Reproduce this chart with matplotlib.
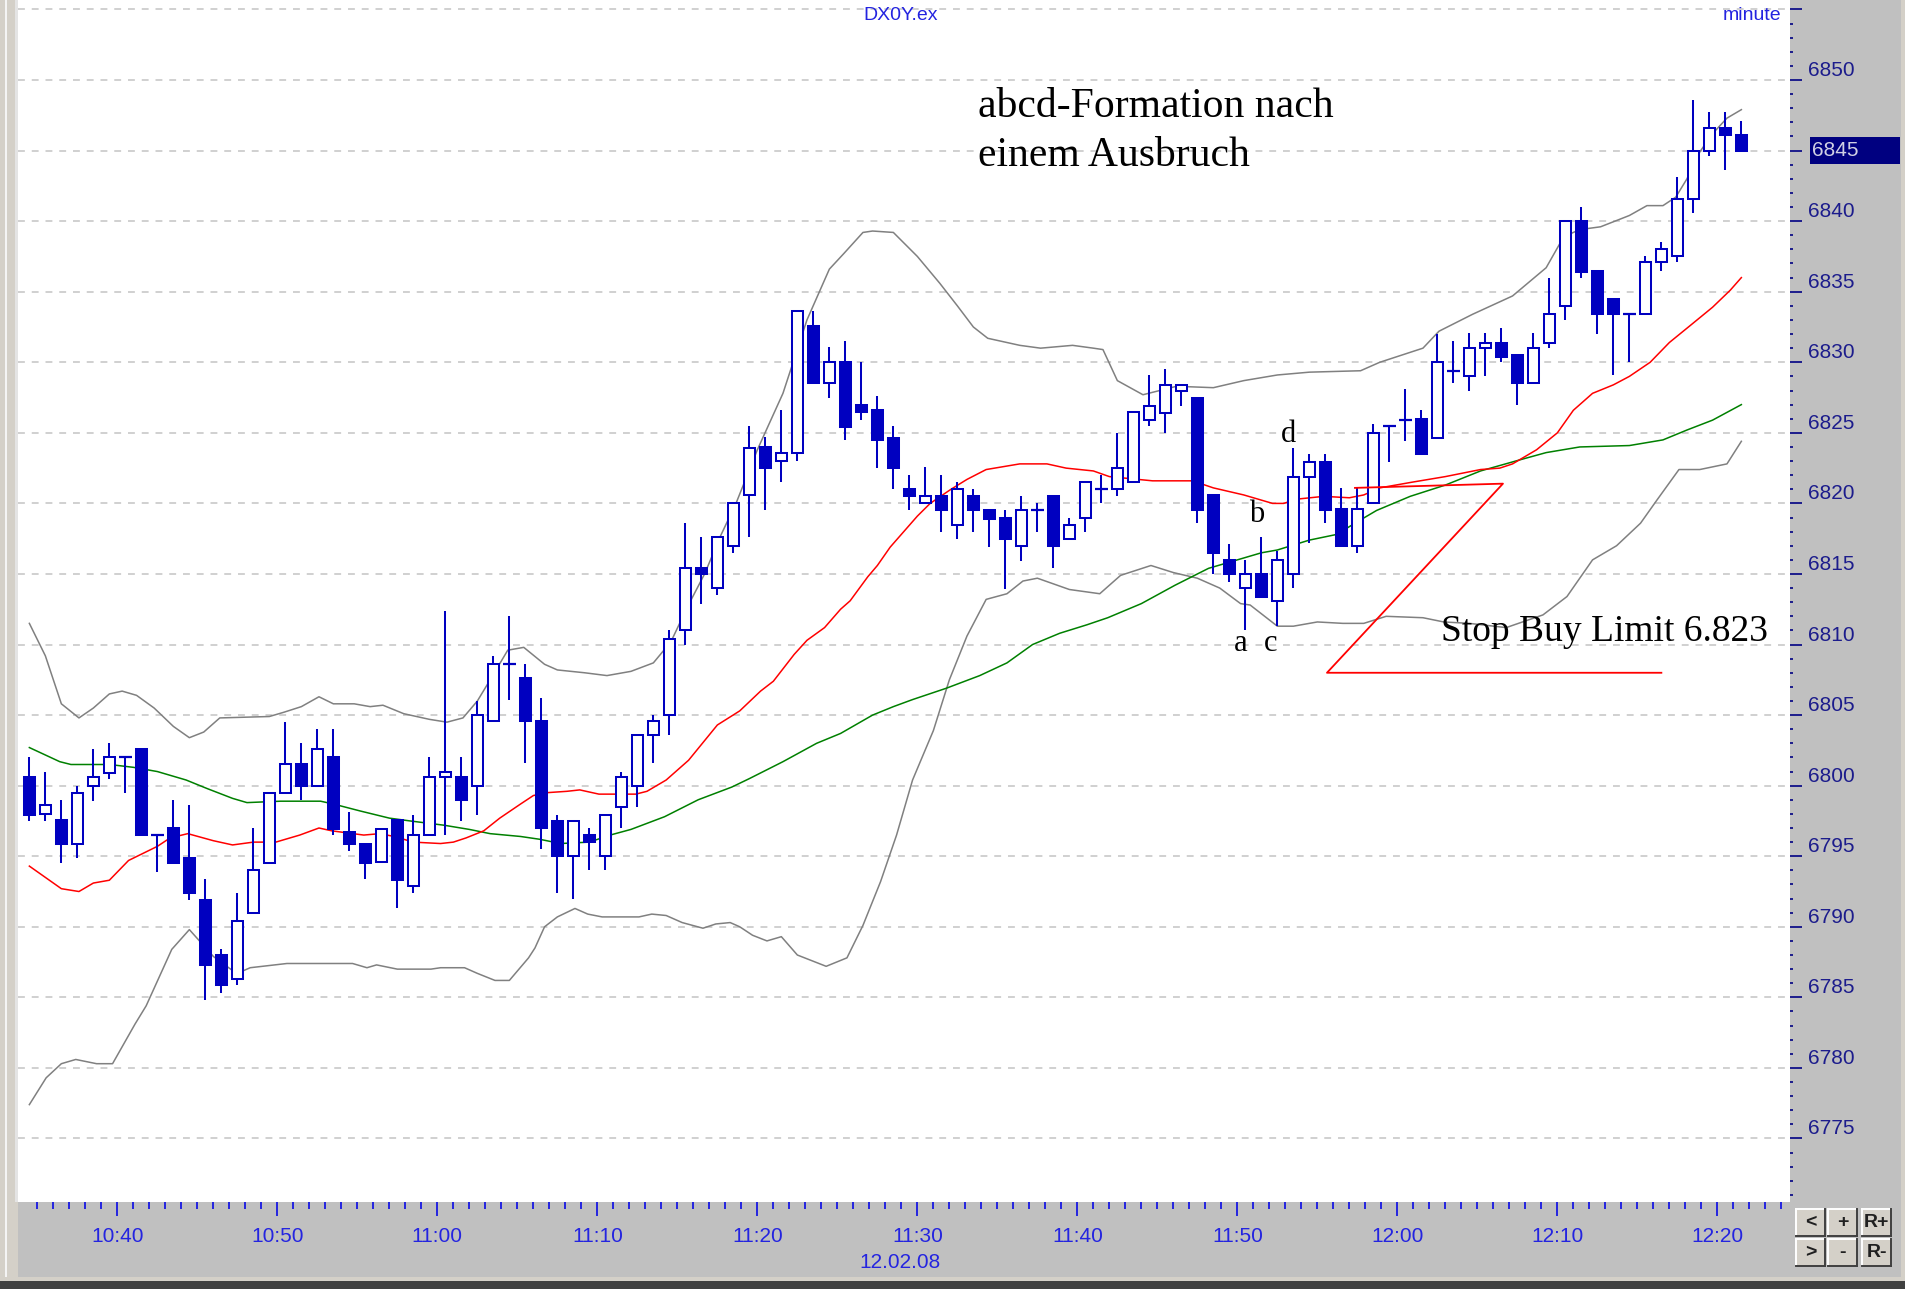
#!/usr/bin/env python3
"""
plot.py - DX0Y.ex one-minute candles on 12.02.08 with the abcd annotation.

Candles run 10:34 .. 12:21, one per minute; x is the bar index from 10:34.
Overlays: red and green moving averages, grey Bollinger bands, and the
hand-drawn stop-buy triangle.  Output: out.png (1905 x 1289 px).
"""
import numpy as np
import matplotlib
matplotlib.use("Agg")
import matplotlib.pyplot as plt
from matplotlib.patches import Rectangle
from matplotlib.lines import Line2D
from matplotlib.ticker import MultipleLocator
from matplotlib.transforms import blended_transform_factory

W, H = 1905, 1289
START_MIN = 10 * 60 + 34          # first bar 10:34

# ---- OHLC, one bar per minute from 10:34 ------------------------------
OPEN = [6800.6, 6798.0, 6797.6, 6795.9, 6800.0, 6800.9, 6802.0, 6802.6, 6796.5, 6797.0,
        6794.9, 6791.9, 6788.0, 6786.3, 6791.0, 6794.5, 6799.5, 6801.5, 6800.0, 6802.0,
        6796.7, 6795.9, 6794.6, 6797.6, 6792.9, 6796.5, 6800.6, 6800.6, 6800.0, 6804.6,
        6808.6, 6807.6, 6804.6, 6797.5, 6795.0, 6796.5, 6795.0, 6798.5, 6800.0, 6803.6,
        6805.0, 6811.0, 6815.4, 6814.0, 6817.0, 6820.6, 6824.0, 6823.0, 6823.6, 6832.6,
        6828.5, 6830.0, 6827.0, 6826.6, 6824.6, 6821.0, 6820.0, 6820.5, 6818.5, 6820.5,
        6819.5, 6819.0, 6817.0, 6819.5, 6820.5, 6817.5, 6819.0, 6821.0, 6821.0, 6821.5,
        6825.9, 6826.4, 6828.0, 6827.5, 6820.6, 6816.0, 6814.0, 6815.0, 6813.1, 6815.0,
        6821.9, 6822.9, 6819.6, 6817.0, 6820.0, 6825.5, 6825.9, 6826.0, 6824.6, 6829.4,
        6829.0, 6831.0, 6831.4, 6830.5, 6828.5, 6831.4, 6834.0, 6840.0, 6836.5, 6834.5,
        6833.4, 6833.4, 6837.1, 6837.5, 6841.6, 6845.0, 6846.6, 6846.1]
HIGH = [6802.0, 6801.0, 6799.0, 6800.0, 6802.6, 6803.0, 6802.0, 6802.6, 6796.5, 6799.0,
        6798.6, 6793.4, 6788.4, 6792.4, 6797.0, 6799.5, 6804.5, 6803.0, 6804.0, 6804.0,
        6798.1, 6795.9, 6796.9, 6797.6, 6797.9, 6802.0, 6812.4, 6802.0, 6806.0, 6809.2,
        6812.0, 6808.6, 6806.2, 6797.9, 6797.5, 6797.0, 6797.9, 6801.0, 6803.6, 6805.0,
        6811.0, 6818.6, 6817.6, 6817.6, 6820.0, 6825.5, 6824.7, 6826.6, 6833.6, 6833.6,
        6831.1, 6831.5, 6830.0, 6827.6, 6825.5, 6822.0, 6822.6, 6822.0, 6821.5, 6821.0,
        6819.5, 6819.5, 6820.5, 6820.0, 6820.5, 6819.0, 6821.5, 6822.0, 6825.0, 6826.5,
        6829.1, 6829.5, 6828.4, 6827.5, 6820.6, 6817.1, 6816.0, 6817.6, 6816.6, 6823.9,
        6823.5, 6823.5, 6821.1, 6821.1, 6825.6, 6825.5, 6828.1, 6826.6, 6832.0, 6831.5,
        6832.1, 6832.1, 6832.4, 6830.5, 6832.1, 6836.0, 6840.0, 6841.0, 6836.5, 6834.5,
        6833.4, 6837.5, 6838.5, 6843.1, 6848.6, 6847.7, 6847.7, 6847.1]
LOW = [6797.5, 6797.5, 6794.5, 6794.9, 6798.9, 6800.5, 6799.5, 6796.5, 6793.9, 6794.5,
       6791.9, 6784.8, 6785.3, 6785.9, 6791.0, 6794.5, 6799.5, 6799.0, 6800.0, 6796.5,
       6795.4, 6793.4, 6794.6, 6791.3, 6792.4, 6796.5, 6796.5, 6797.5, 6797.9, 6804.6,
       6806.1, 6801.6, 6795.5, 6792.4, 6792.0, 6794.0, 6794.0, 6797.0, 6798.5, 6801.6,
       6803.6, 6810.0, 6812.9, 6813.5, 6816.5, 6817.6, 6819.5, 6821.5, 6823.0, 6828.5,
       6827.5, 6824.5, 6825.9, 6822.5, 6821.0, 6819.5, 6820.0, 6818.0, 6817.5, 6818.0,
       6816.9, 6813.9, 6815.9, 6818.0, 6815.4, 6817.5, 6818.0, 6820.0, 6820.5, 6821.5,
       6825.5, 6825.0, 6826.9, 6818.6, 6815.0, 6814.4, 6811.0, 6813.4, 6811.3, 6814.0,
       6817.2, 6818.6, 6817.0, 6816.5, 6820.0, 6822.9, 6824.4, 6823.5, 6824.6, 6828.5,
       6828.0, 6829.0, 6830.0, 6827.0, 6828.5, 6831.0, 6833.0, 6836.0, 6832.0, 6829.1,
       6830.0, 6833.4, 6836.5, 6837.1, 6840.6, 6844.6, 6843.6, 6845.0]
CLOSE = [6797.9, 6798.6, 6795.9, 6799.5, 6800.6, 6802.0, 6802.0, 6796.5, 6796.5, 6794.5,
         6792.4, 6787.3, 6785.9, 6790.4, 6794.0, 6799.5, 6801.5, 6800.0, 6802.6, 6796.9,
         6795.9, 6794.5, 6796.9, 6793.3, 6796.5, 6800.6, 6801.0, 6799.0, 6805.0, 6808.6,
         6808.6, 6804.6, 6797.0, 6795.0, 6797.5, 6796.0, 6797.9, 6800.6, 6803.6, 6804.6,
         6810.4, 6815.4, 6815.0, 6817.6, 6820.0, 6823.9, 6822.5, 6823.6, 6833.6, 6828.5,
         6830.0, 6825.4, 6826.5, 6824.5, 6822.5, 6820.5, 6820.5, 6819.5, 6821.0, 6819.5,
         6818.9, 6817.5, 6819.5, 6819.5, 6817.0, 6818.5, 6821.5, 6821.0, 6822.5, 6826.5,
         6826.9, 6828.4, 6828.4, 6819.5, 6816.5, 6815.0, 6815.0, 6813.4, 6816.0, 6821.9,
         6822.9, 6819.5, 6817.0, 6819.6, 6825.0, 6825.5, 6825.9, 6823.5, 6830.0, 6829.4,
         6831.0, 6831.4, 6830.4, 6828.5, 6831.0, 6833.4, 6840.0, 6836.4, 6833.4, 6833.4,
         6833.4, 6837.1, 6838.0, 6841.6, 6845.0, 6846.6, 6846.1, 6845.0]

# ---- indicator lines: (bar index, price) ------------------------------
UPPER_BAND = [(0, 6811.5), (1, 6809.2), (2, 6805.8), (3.1, 6804.8), (4, 6805.5), (5, 6806.5),
              (5.8, 6806.7), (6.7, 6806.4), (7.8, 6805.5), (9, 6804.2), (10, 6803.4),
              (10.9, 6803.8), (11.9, 6804.8), (15, 6804.9), (15.9, 6805.2), (17, 6805.6),
              (18.1, 6806.3), (19, 6805.8), (20.3, 6805.8), (21.3, 6805.6), (22.1, 6805.7),
              (23.4, 6805.1), (25, 6804.7), (26.1, 6804.5), (27.1, 6804.8), (28, 6806.0),
              (28.8, 6807.5), (29.9, 6809.6), (30.9, 6809.8), (32.2, 6808.6), (33, 6808.2),
              (34.7, 6808.0), (36.1, 6807.8), (37.6, 6808.1), (39, 6808.7), (40.1, 6810.2),
              (41.1, 6812.6), (42.2, 6815.0), (43.2, 6817.7), (44.2, 6820.1), (45.5, 6823.8),
              (47.1, 6827.8), (48.6, 6833.0), (50, 6836.6), (50.9, 6837.7), (52.1, 6839.2),
              (52.7, 6839.3), (54, 6839.2), (55.5, 6837.5), (56.9, 6835.6), (58, 6834.0),
              (59, 6832.5), (59.9, 6831.7), (61.9, 6831.2), (63.2, 6831.0), (65.2, 6831.2),
              (66.5, 6831.0), (67.1, 6830.9), (68, 6828.7), (69.6, 6827.7), (71.7, 6828.3),
              (74, 6828.2), (75.9, 6828.7), (78, 6829.1), (80, 6829.3), (83.2, 6829.4),
              (84.4, 6830.0), (87.1, 6831.0), (88.1, 6832.2), (90.2, 6833.4), (92.7, 6834.7),
              (94.8, 6836.7), (95.9, 6838.9), (96.9, 6839.4), (98.2, 6839.6), (100, 6840.4),
              (101.1, 6841.1), (102.1, 6841.1), (102.9, 6841.7), (103.6, 6843.0),
              (104.4, 6844.9), (105.2, 6846.2), (106.1, 6847.3), (107, 6847.9)]
LOWER_BAND = [(0, 6777.4), (1.05, 6779.3), (2, 6780.3), (2.9, 6780.6), (4.2, 6780.3),
              (5.2, 6780.3), (6.6, 6783.1), (7.3, 6784.4), (8.9, 6788.4), (10, 6789.8),
              (11.5, 6787.9), (12.7, 6786.9), (13.2, 6786.8), (13.8, 6787.1), (16.1, 6787.4),
              (20.2, 6787.4), (21.1, 6787.1), (21.7, 6787.3), (23, 6787.0), (25.1, 6787.0),
              (25.7, 6787.1), (27.2, 6787.1), (28, 6786.7), (29.1, 6786.2), (30, 6786.2),
              (30.3, 6786.6), (31.2, 6787.8), (31.6, 6788.5), (32.2, 6790.0), (33, 6790.7),
              (34.1, 6791.3), (34.9, 6790.9), (35.8, 6790.7), (38.1, 6790.7), (38.9, 6790.9),
              (39.8, 6790.8), (40.8, 6790.3), (42.1, 6789.9), (42.9, 6790.2), (43.8, 6790.3),
              (44.4, 6790.0), (45.2, 6789.4), (46.1, 6789.0), (47, 6789.3), (48, 6788.0),
              (49.8, 6787.2), (51.1, 6787.8), (52.1, 6790.1), (53.2, 6793.2), (54.2, 6796.5),
              (55.2, 6800.4), (56.5, 6803.9), (57.5, 6807.5), (58.6, 6810.6), (59.8, 6813.2),
              (61.1, 6813.6), (62.1, 6814.5), (63, 6814.7), (64, 6814.3), (65, 6813.9),
              (66.9, 6813.6), (68.2, 6814.9), (70.1, 6815.6), (71.5, 6815.1), (73, 6814.7),
              (74.4, 6814.0), (75.7, 6812.9), (76.3, 6812.8), (78, 6811.3), (79, 6811.3),
              (80.5, 6811.6), (82.1, 6811.5), (83.4, 6811.5), (84.8, 6812.0), (87.1, 6811.9),
              (88.4, 6811.6), (90, 6811.5), (92.3, 6811.2), (94.6, 6812.1), (96.1, 6813.4),
              (97.7, 6816.0), (99.2, 6817.0), (100.7, 6818.6), (101.7, 6820.2),
              (103.1, 6822.4), (104.4, 6822.4), (106.1, 6822.8), (107, 6824.4)]
MA_RED = [(0, 6794.3), (2, 6792.7), (3.1, 6792.5), (4, 6793.1), (5, 6793.3), (6.2, 6794.7),
          (7.1, 6795.2), (8, 6795.7), (8.8, 6796.3), (9.9, 6796.6), (11.5, 6796.1),
          (12.7, 6795.8), (14, 6796.0), (15.4, 6796.0), (16.9, 6796.5), (18.1, 6797.0),
          (18.9, 6796.8), (20.9, 6796.5), (21.9, 6796.6), (22.8, 6796.4), (24, 6796.0),
          (25.7, 6795.9), (26.5, 6796.0), (27.3, 6796.3), (28.4, 6796.8), (29.4, 6797.7),
          (30.7, 6798.7), (31.5, 6799.3), (32.3, 6799.5), (33.6, 6799.6), (34.4, 6799.7),
          (35.6, 6799.4), (37.9, 6799.4), (38.6, 6799.6), (39.8, 6800.4), (41.2, 6801.8),
          (43, 6804.3), (44.4, 6805.3), (45.7, 6806.7), (46.5, 6807.4), (47.8, 6809.3),
          (48.6, 6810.3), (49.7, 6811.2), (50.7, 6812.5), (51.3, 6813.1), (52.4, 6814.8),
          (53, 6815.6), (53.8, 6816.9), (55.5, 6819.1), (56.3, 6820.0), (57.6, 6821.0),
          (58.6, 6821.7), (59.8, 6822.4), (61.9, 6822.8), (63.6, 6822.8), (64.8, 6822.5),
          (66.5, 6822.3), (67.5, 6821.9), (70.2, 6821.6), (72.7, 6821.6), (74, 6821.1),
          (75.9, 6820.6), (77.7, 6820.0), (78.4, 6820.0), (79.2, 6820.3), (80.9, 6820.5),
          (82.5, 6820.4), (83.4, 6820.6), (84.4, 6821.1), (86.4, 6821.5), (88.5, 6821.9),
          (90.7, 6822.4), (91.9, 6822.5), (92.7, 6822.8), (94.2, 6823.8), (95.5, 6825.0),
          (96.5, 6826.6), (97.7, 6827.8), (99, 6828.4), (100, 6829.0), (101.3, 6830.0),
          (102.5, 6831.4), (103.8, 6832.6), (105.2, 6833.9), (106.3, 6835.1), (107, 6836.0)]
MA_GREEN = [(0, 6802.7), (1.9, 6801.7), (2.6, 6801.5), (5, 6801.5), (6.5, 6801.3), (8, 6801.0),
            (9.8, 6800.4), (11.1, 6799.8), (12.7, 6799.1), (13.6, 6798.8), (15.7, 6798.9),
            (18.2, 6798.9), (19, 6798.7), (20.7, 6798.2), (22.5, 6797.7), (23.8, 6797.5),
            (25.9, 6797.2), (27.5, 6796.9), (28.8, 6796.6), (30.7, 6796.4), (31.9, 6796.2),
            (33.2, 6795.9), (35, 6796.0), (36.3, 6796.5), (37.6, 6796.9), (39.7, 6797.8),
            (41.8, 6799.0), (43.9, 6799.9), (45, 6800.5), (47.1, 6801.7), (49.2, 6803.0),
            (50.7, 6803.7), (52.7, 6805.0), (54, 6805.6), (55.2, 6806.1), (57.3, 6806.9),
            (59.4, 6807.8), (61.1, 6808.7), (62.7, 6810.0), (64.4, 6810.8), (66.1, 6811.4),
            (67.4, 6811.9), (69.5, 6812.9), (71.6, 6814.2), (73.7, 6815.4), (75.8, 6816.1),
            (77, 6816.5), (78, 6816.7), (80, 6817.4), (81.7, 6817.8), (83, 6818.7),
            (84.2, 6819.5), (86.3, 6820.5), (88.5, 6821.3), (90.7, 6822.3), (93.2, 6823.1),
            (94.8, 6823.6), (96.9, 6824.0), (100, 6824.1), (102.1, 6824.5), (103.6, 6825.2),
            (105.2, 6825.9), (107, 6827.0)]

# hand-drawn stop-buy triangle and the abcd labels (bar index, price)
STOP_ZONE = [(82.85, 6821.1), (92.1, 6821.4), (81.1, 6808.0), (102.0, 6808.0)]
ABCD = [("a", 75.7, 6810.1), ("b", 76.7, 6819.2), ("c", 77.6, 6810.1), ("d", 78.7, 6824.9)]
HEADLINE = ["abcd-Formation nach", "einem Ausbruch"]

TIME_LABELS = ["10:40", "10:50", "11:00", "11:10", "11:20", "11:30",
               "11:40", "11:50", "12:00", "12:10", "12:20"]
PRICE_TICKS = [6775, 6780, 6785, 6790, 6795, 6800, 6805, 6810, 6815,
               6820, 6825, 6830, 6835, 6840, 6845, 6850, 6855]

CANDLE = "#0000c0"
NAVY = "#1c1c8c"
TBLUE = "#2424e0"
PANEL = "#c0c0c0"
FRAME = "#d4d0c8"

plt.rcParams.update({"font.family": ["Liberation Sans", "DejaVu Sans"]})


def fx(px):
    return px / W


def fy(py):
    return 1 - py / H


def _candles(ax):
    x = np.arange(len(OPEN))
    o, h, l, c = (np.asarray(a) for a in (OPEN, HIGH, LOW, CLOSE))
    ax.vlines(x, l, h, color=CANDLE, lw=1.45, zorder=3)
    lo = np.minimum(o, c)
    ht = np.abs(c - o)
    up, dn, flat = c > o, c < o, c == o
    ax.bar(x[up], ht[up], bottom=lo[up], width=0.72, facecolor="white",
           edgecolor=CANDLE, linewidth=1.45, zorder=4)
    ax.bar(x[dn], ht[dn], bottom=lo[dn], width=0.72, facecolor=CANDLE,
           edgecolor=CANDLE, linewidth=1.45, zorder=4)
    ax.hlines(o[flat], x[flat] - 0.4, x[flat] + 0.4, color=CANDLE, lw=1.6, zorder=4)


def _lines(ax):
    for pts, col in [(UPPER_BAND, "#808080"), (LOWER_BAND, "#808080"),
                     (MA_GREEN, "#008000"), (MA_RED, "#ff0000")]:
        xs, vs = zip(*pts)
        ax.plot(xs, vs, color=col, lw=1.1, zorder=2)
    xs, vs = zip(*STOP_ZONE)
    ax.plot(xs, vs, color="#ff0000", lw=1.3, zorder=5)


def _texts(ax):
    serif = ["Liberation Serif", "DejaVu Serif"]
    for line, v in zip(HEADLINE, (6848.1, 6844.6)):
        ax.text(59.3, v, line, fontsize=30, family=serif, ha="left", va="center", zorder=6)
    ax.text(88.2, 6810.9, "Stop Buy Limit 6.823", fontsize=27, family=serif,
            ha="left", va="center", zorder=6)
    for lab, xi, v in ABCD:
        ax.text(xi, v, lab, fontsize=22, family=serif, ha="center", va="center", zorder=6)


def _axes_style(ax):
    ax.set_xlim(-0.71, 110.04)
    ax.set_ylim(6770.5, 6855.67)
    for s in ax.spines.values():
        s.set_visible(False)
    ax.set_axisbelow(True)

    # x: minute boundaries sit half a bar left of each bar centre
    tick_pos = [int(t[:2]) * 60 + int(t[3:]) - START_MIN - 0.5 for t in TIME_LABELS]
    ax.set_xticks(tick_pos, labels=TIME_LABELS)
    ax.set_xticks(np.arange(0.5, 110, 1.0), minor=True)
    ax.tick_params(axis="x", which="both", direction="out", colors=TBLUE,
                   labelcolor=TBLUE, width=1.4, labelsize=15, pad=8)
    ax.tick_params(axis="x", which="major", length=10)
    ax.tick_params(axis="x", which="minor", length=5)

    # right price scale; the last price sits in its own box, so its tick stays bare
    last = CLOSE[-1]
    ax.yaxis.tick_right()
    labels = ["" if v in (6855, round(last)) else str(v) for v in PRICE_TICKS]
    ax.set_yticks(PRICE_TICKS, labels=labels, va="bottom")
    ax.yaxis.set_minor_locator(MultipleLocator(1))
    ax.tick_params(axis="y", which="both", direction="out", colors=NAVY,
                   labelcolor=NAVY, width=1.4, labelsize=15, pad=4,
                   left=False, labelleft=False, right=True, labelright=True)
    ax.tick_params(axis="y", which="major", length=8.6)
    ax.tick_params(axis="y", which="minor", length=2.4)
    ax.grid(axis="y", which="major", color="#c4c4c4", lw=1.1, linestyle=(0, (4.5, 4.5)))

    tr = blended_transform_factory(ax.transAxes, ax.transData)
    ax.add_patch(Rectangle((1.0113, last - 0.95), 0.0508, 1.9, transform=tr,
                           facecolor="#000080", edgecolor="none", clip_on=False, zorder=7))
    ax.text(1.0124, last, f"{last:.0f}", transform=tr, color="#d0d0e4", fontsize=15,
            ha="left", va="center", clip_on=False, zorder=8)

    dtr = blended_transform_factory(ax.transData, ax.figure.transFigure)
    ax.text(54.4, fy(1263), "12.02.08", transform=dtr, color=TBLUE, fontsize=15,
            ha="center", va="center")


def _frame(fig):
    def rect(x0, y0, x1, y1, col):
        fig.add_artist(Rectangle((fx(x0), fy(y1)), fx(x1 - x0), (y1 - y0) / H,
                                 transform=fig.transFigure, facecolor=col,
                                 edgecolor="none", zorder=0))

    rect(0, 0, 18, 1280, FRAME)
    rect(5, 0, 7, 1280, "#f4f4f4")
    rect(15, 0, 18, 1202, "#e4e4e4")
    rect(1901, 0, W, 1280, FRAME)
    rect(0, 1277, W, 1281, FRAME)
    rect(0, 1281, W, H, "#404040")

    fig.text(fx(901), fy(15), "DX0Y.ex", color=TBLUE, fontsize=14, ha="center", va="center")
    fig.text(fx(1752), fy(15), "minute", color=TBLUE, fontsize=14, ha="center", va="center")

    cols = [1796, 1828, 1862]
    rows = [1209, 1239]
    names = [["<", "+", "R+"], [">", "-", "R-"]]
    bw, bh = 29, 27
    for r, y0 in enumerate(rows):
        for c, x0 in enumerate(cols):
            x1, y1 = x0 + bw, y0 + bh
            rect(x0, y0, x1, y1, FRAME)
            for (a, b), (p, q), col in [((x0, x1), (y0, y0), "white"),
                                        ((x0, x0), (y0, y1), "white"),
                                        ((x0, x1), (y1, y1), "#404040"),
                                        ((x1, x1), (y0, y1), "#404040")]:
                fig.add_artist(Line2D([fx(a), fx(b)], [fy(p), fy(q)], color=col, lw=1.4,
                                      transform=fig.transFigure))
            fig.text(fx((x0 + x1) / 2), fy((y0 + y1) / 2), names[r][c], fontsize=14,
                     fontweight="bold", color="#202020", ha="center", va="center")


def main():
    fig = plt.figure(figsize=(W / 100, H / 100), dpi=100, facecolor=PANEL)
    ax = fig.add_axes([fx(18), fy(1202), fx(1790 - 18), 1202 / H])
    ax.set_facecolor("white")
    _lines(ax)
    _candles(ax)
    _texts(ax)
    _axes_style(ax)
    _frame(fig)
    fig.savefig("out.png", dpi=100, facecolor=PANEL)
    plt.close(fig)


if __name__ == "__main__":
    main()
